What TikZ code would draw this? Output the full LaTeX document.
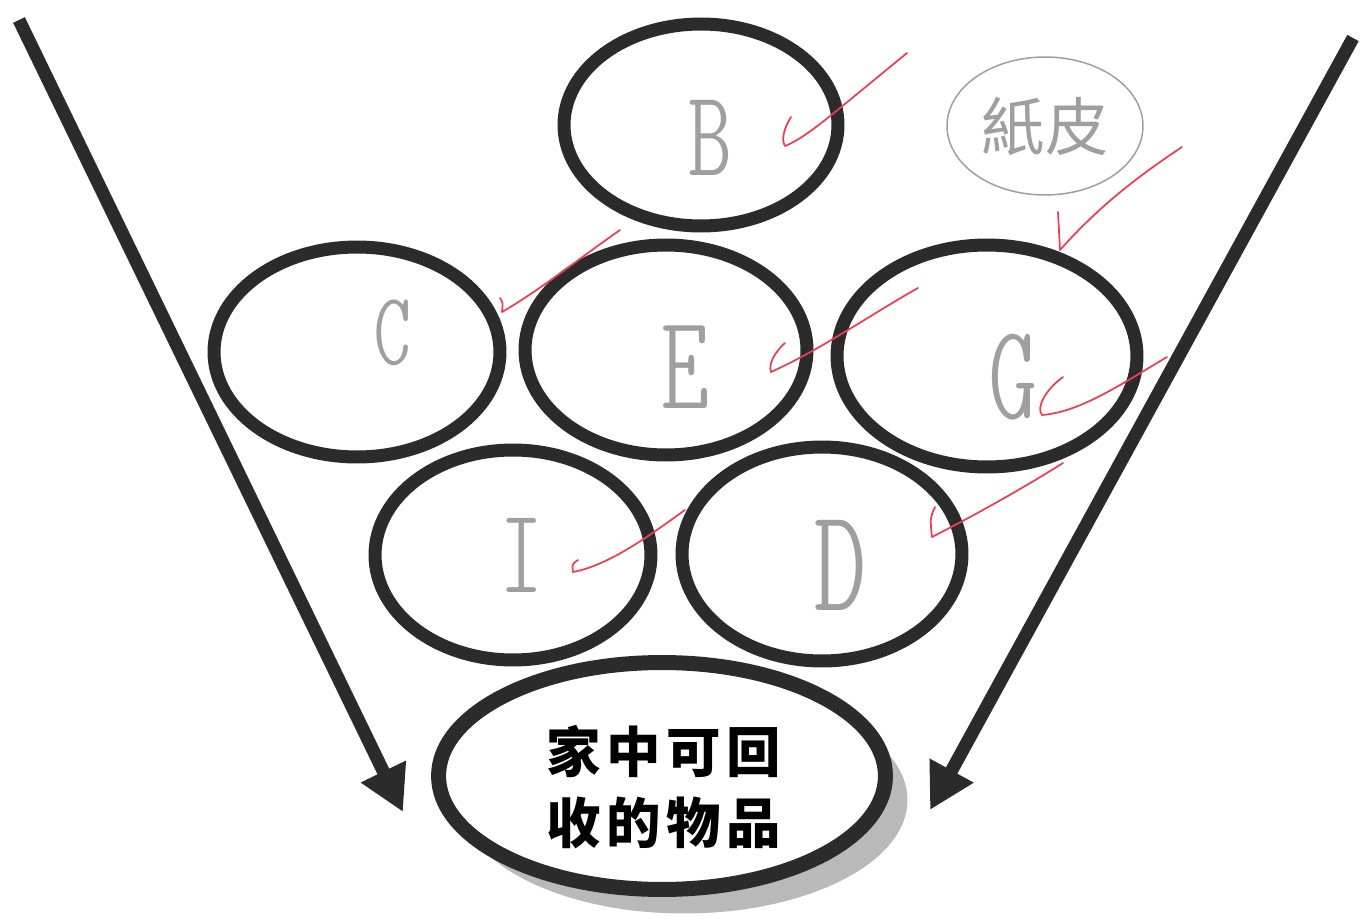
\documentclass[tikz,border=0pt]{standalone}
\usepackage{fontspec}
\newfontfamily\cjk{Noto Sans CJK TC}
\newfontfamily\handfont{lmmonoltcond10-regular}[Extension=.otf]
\definecolor{ringgray}{RGB}{43, 43, 43}
\definecolor{tickred}{RGB}{238, 62, 84}
\usetikzlibrary{shapes, arrows.meta, positioning, shadows}

\tikzset{
  ring/.style={ellipse, draw=ringgray, line width=2.6mm, fill=white, inner sep=0pt},
  hand/.style={text=gray!75, font=\handfont\fontsize{#1}{#1}\selectfont, inner sep=0pt},
  hand/.default=60,
  tick/.style={draw=tickred, line width=0.35mm, line cap=round, line join=round},
  bigarrow/.style={draw=ringgray, line width=2.6mm, -{Triangle[length=9mm, width=9.4mm]}},
}

\begin{document}
\begin{tikzpicture}[x=0.02cm, y=-0.02cm]
  \useasboundingbox (0,0) rectangle (1370,919);

  % the two big arrows
  \coordinate (ltop) at (19,20);
  \coordinate (ltip) at (403,812);
  \coordinate (rtop) at (1353,38);
  \coordinate (rtip) at (930,810);
  \draw[bigarrow] (ltop) -- (ltip);
  \draw[bigarrow] (rtop) -- (rtip);

  % rings
  \node[ring, minimum width=5.48cm, minimum height=4.04cm] (B) at (701,125) {};
  \node[ring, minimum width=5.72cm, minimum height=4.2cm] (C) at (357,352) {};
  \node[ring, minimum width=5.64cm, minimum height=4.2cm] (E) at (666,350) {};
  \node[ring, minimum width=6cm, minimum height=4.44cm] (G) at (987,356) {};
  \node[ring, minimum width=5.52cm, minimum height=4.2cm] (I) at (513,555) {};
  \node[ring, minimum width=5.6cm, minimum height=4.28cm] (D) at (822,554) {};

  \node[hand=70] (Blbl) at (710,138) {B};
  \node[hand=59] (Clbl) at (393,333) {C};
  \node[hand=77] (Elbl) at (685,367) {E};
  \node[hand=77] (Glbl) at (1013,377) {G};
  \node[hand=69] (Ilbl) at (522,555) {I};
  \node[hand=84] (Dlbl) at (840,565) {D};

  % bottom ring
  \node[ring, line width=3mm, minimum width=8.94cm, minimum height=4.54cm,
        drop shadow={shadow xshift=0.44cm, shadow yshift=-0.48cm, fill=gray!55, opacity=1}]
        (home) at (662,776) {};
  \node[align=center, inner sep=0pt,
        font=\cjk\bfseries\fontsize{31}{40}\selectfont\addfontfeature{LetterSpace=10}]
        (homelbl) at (664,787) {家中可回\\收的物品};

  % note
  \node[ellipse, draw=gray!75, line width=0.3mm, inner sep=0pt, minimum width=3.92cm,
        minimum height=2.76cm, text=gray!75, font=\cjk\fontsize{36}{36}\selectfont]
        (paper) at (1045,126) {紙皮};

  % red ticks
  \draw[tick] (791,117) .. controls (784,128) and (781,140) .. (785,146)
              .. controls (800,140) and (818,126) .. (840,108) -- (907,53);
  \draw[tick] (1058,212) -- (1060,250) .. controls (1100,205) and (1140,175) .. (1182,147);
  \draw[tick] (500,298) .. controls (503,303) .. (502,312)
              .. controls (540,290) and (580,258) .. (620,230);
  \draw[tick] (785,343) .. controls (775,352) and (768,364) .. (771,372)
              .. controls (820,350) and (870,315) .. (918,288);
  \draw[tick] (1063,377) .. controls (1045,390) and (1036,408) .. (1042,415)
              .. controls (1080,412) and (1120,385) .. (1167,357);
  \draw[tick] (935,507) .. controls (930,518) .. (932,537)
              .. controls (975,515) and (1020,490) .. (1063,463);
  \draw[tick] (578,560) .. controls (572,564) .. (573,572)
              .. controls (610,565) and (650,535) .. (685,510);
\end{tikzpicture}
\end{document}
